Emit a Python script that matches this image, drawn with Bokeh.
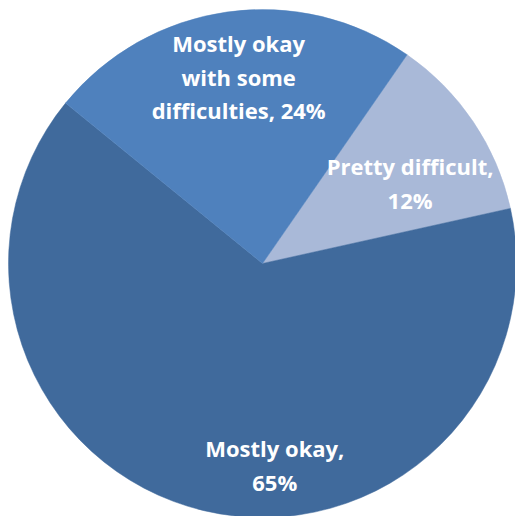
import math
from bokeh.plotting import figure
from bokeh.models import Range1d, ColumnDataSource
from bokeh.core.properties import value
from bokeh.embed import file_html
from bokeh.resources import INLINE

# Data (clockwise order, starting from the first slice)
categories = ["Pretty difficult", "Mostly okay", "Mostly okay with some difficulties"]
label_texts = ["Pretty difficult,\n12%", "Mostly okay,\n65%", "Mostly okay\nwith some\ndifficulties, 24%"]
percents = [12, 65, 24]
colors = ["#A9B9D8", "#406A9C", "#4F81BD"]

# Layout
W, H = 515, 516
R = 254
START_CW_DEG = 34.7  # first slice starts this many degrees clockwise from 12 o'clock
# label placement: (radius, angle offset from slice mid-angle in degrees, clockwise)
label_radius = [168, 202, 188.5]
label_offset = [5.4, -16.8, 0.8]

total = float(sum(percents))
starts, ends, lx, ly = [], [], [], []
cum = START_CW_DEG
for i, v in enumerate(percents):
    span = v / total * 360.0
    s_cw, e_cw = cum, cum + span
    starts.append(math.radians(90 - s_cw))
    ends.append(math.radians(90 - e_cw))
    mid = (s_cw + e_cw) / 2 + label_offset[i]
    lx.append(label_radius[i] * math.sin(math.radians(mid)))
    ly.append(label_radius[i] * math.cos(math.radians(mid)))
    cum = e_cw

src = ColumnDataSource(dict(cat=categories, start=starts, end=ends, color=colors,
                            lx=lx, ly=ly, label=label_texts))

p = figure(width=W, height=H, output_backend="svg", toolbar_location=None,
           x_range=Range1d(-262, 253), y_range=Range1d(-253, 263),
           min_border=0, outline_line_color=None)
p.axis.visible = False
p.grid.visible = False
p.background_fill_color = "white"
p.border_fill_color = "white"

p.wedge(x=0, y=0, radius=R, start_angle="start", end_angle="end", direction="clock",
        fill_color="color", line_color="color", line_width=0.5, source=src)

p.text(x="lx", y="ly", text="label", source=src, text_color="white",
       text_font=value("Open Sans"), text_font_style="bold", text_font_size="22px",
       text_align="center", text_baseline="middle", text_line_height=1.13)

open("out.html", "w").write(file_html(p, INLINE))
